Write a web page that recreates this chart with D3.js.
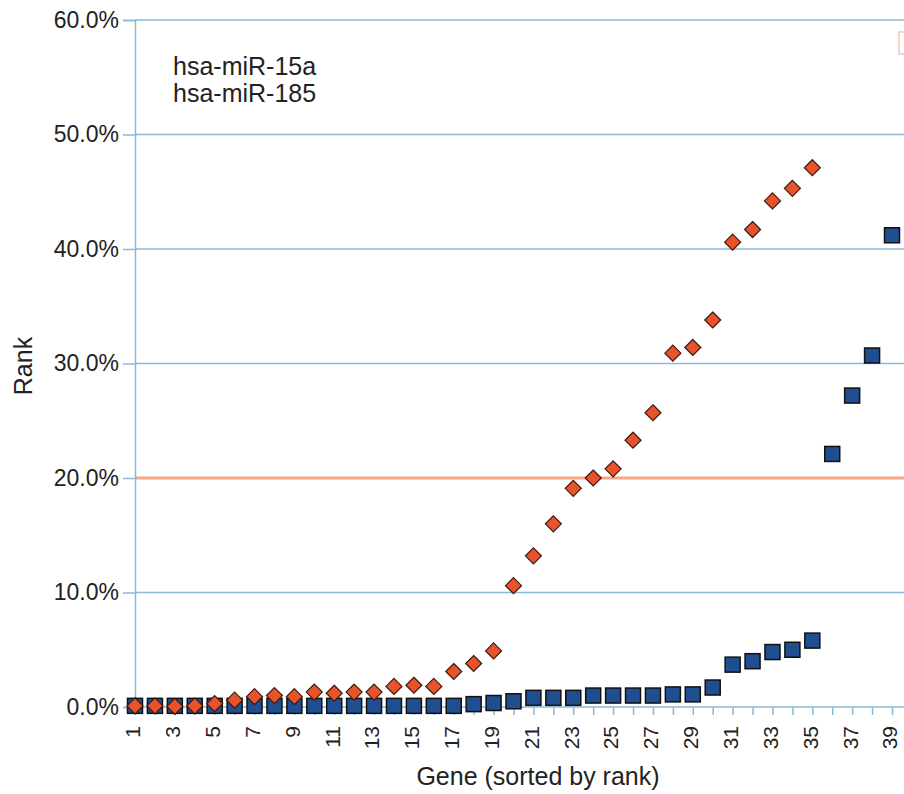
<!DOCTYPE html>
<html>
<head>
<meta charset="utf-8">
<script src="https://cdn.jsdelivr.net/npm/d3@7"></script>
<style>
  body { margin: 0; background: #fff; }
  text { font-family: "Liberation Sans", Arial, sans-serif; fill: #222; }
</style>
</head>
<body>
<div id="chart"></div>
<script>
// genes 1..39, sorted by rank
var genes = d3.range(1, 40);
var yTicks = [0, 0.1, 0.2, 0.3, 0.4, 0.5, 0.6];
var seriesNames = ["hsa-miR-15a", "hsa-miR-185"];
var threshold = 0.2;

// hsa-miR-15a (orange diamonds), genes 1..35
var mir15a = [0.001, 0.001, 0.0005, 0.001, 0.003, 0.006, 0.009, 0.010, 0.009, 0.013,
              0.012, 0.013, 0.013, 0.018, 0.019, 0.018, 0.031, 0.038, 0.049, 0.106,
              0.132, 0.160, 0.191, 0.200, 0.208, 0.233, 0.257, 0.309, 0.314, 0.338,
              0.406, 0.417, 0.442, 0.453, 0.471];

// hsa-miR-185 (blue squares), genes 1..39
var mir185 = [0.001, 0.001, 0.001, 0.001, 0.001, 0.001, 0.001, 0.001, 0.001, 0.001,
              0.001, 0.001, 0.001, 0.001, 0.001, 0.001, 0.001, 0.0025, 0.0035, 0.005,
              0.008, 0.008, 0.008, 0.010, 0.010, 0.010, 0.010, 0.011, 0.011, 0.017,
              0.037, 0.040, 0.048, 0.050, 0.058, 0.221, 0.272, 0.307, 0.412];

var width = 904, height = 794;
var gridColor = "#8db9d6";

var svg = d3.select("#chart")
    .append("svg")
    .attr("width", width)
    .attr("height", height);

var x = d3.scaleLinear()
    .domain([1, 39])
    .range([135, 892]);

var y = d3.scaleLinear()
    .domain([0, 0.6])
    .range([707, 20]);

// gridlines
svg.append("g")
    .selectAll("line")
    .data(yTicks.slice(1))
    .enter().append("line")
    .attr("x1", 135)
    .attr("x2", width)
    .attr("y1", d => y(d))
    .attr("y2", d => y(d))
    .attr("stroke", gridColor)
    .attr("stroke-width", 1.5);

// threshold line at 20%
svg.append("line")
    .attr("x1", 135)
    .attr("x2", width)
    .attr("y1", y(threshold))
    .attr("y2", y(threshold))
    .attr("stroke", "#f6a586")
    .attr("stroke-width", 3);

// y axis
var yAxis = svg.append("g")
    .attr("transform", "translate(135,0)")
    .call(d3.axisLeft(y).tickValues(yTicks).tickFormat(d3.format(".1%")).tickSize(12).tickPadding(4));
yAxis.selectAll("text").style("font-size", "23px");
yAxis.selectAll("line").attr("stroke", gridColor).attr("stroke-width", 1.5);
yAxis.select(".domain").attr("stroke", gridColor).attr("stroke-width", 1.5);

// x axis
var xAxis = svg.append("g")
    .attr("transform", "translate(0," + y(0) + ")")
    .call(d3.axisBottom(x).tickValues(genes).tickSizeOuter(0).tickSize(8).tickFormat(""));
xAxis.selectAll("line").attr("stroke", gridColor).attr("stroke-width", 1.5);
xAxis.select(".domain").attr("stroke", gridColor).attr("stroke-width", 1.5)
    .attr("d", "M135,0H" + width);

xAxis.selectAll(".xlabel")
    .data(genes.filter(d => d % 2 == 1))
    .enter().append("text")
    .attr("class", "xlabel")
    .attr("transform", d => "translate(" + (x(d) - 2) + ",19) rotate(-90)")
    .attr("dy", "0.35em")
    .attr("text-anchor", "end")
    .style("font-size", "21px")
    .text(d => d);

// blue squares
svg.append("g")
    .selectAll("rect")
    .data(mir185)
    .enter().append("rect")
    .attr("x", (d, i) => x(genes[i]) - 7.5)
    .attr("y", d => y(d) - 7.5)
    .attr("width", 15)
    .attr("height", 15)
    .attr("fill", "#1f4f91")
    .attr("stroke", "#111")
    .attr("stroke-width", 1.5);

// orange diamonds
svg.append("g")
    .selectAll("path")
    .data(mir15a)
    .enter().append("path")
    .attr("transform", (d, i) => "translate(" + x(genes[i]) + "," + y(d) + ")")
    .attr("d", "M0,-8L8,0L0,8L-8,0Z")
    .attr("fill", "#e8532b")
    .attr("stroke", "#3a1a10")
    .attr("stroke-width", 1.2);

// legend text
svg.append("g")
    .selectAll("text")
    .data(seriesNames)
    .enter().append("text")
    .attr("x", 173)
    .attr("y", (d, i) => 75 + i * 27)
    .style("font-size", "25px")
    .text(d => d);

// clipped legend box edge at top right
svg.append("rect")
    .attr("x", 899)
    .attr("y", 32)
    .attr("width", 12)
    .attr("height", 22)
    .attr("fill", "none")
    .attr("stroke", "#f4c6b8")
    .attr("stroke-width", 1.5);

// axis titles
svg.append("text")
    .attr("x", 538)
    .attr("y", 785)
    .attr("text-anchor", "middle")
    .style("font-size", "25px")
    .text("Gene (sorted by rank)");

svg.append("text")
    .attr("transform", "translate(32,366) rotate(-90)")
    .attr("text-anchor", "middle")
    .style("font-size", "25px")
    .text("Rank");
</script>
</body>
</html>
